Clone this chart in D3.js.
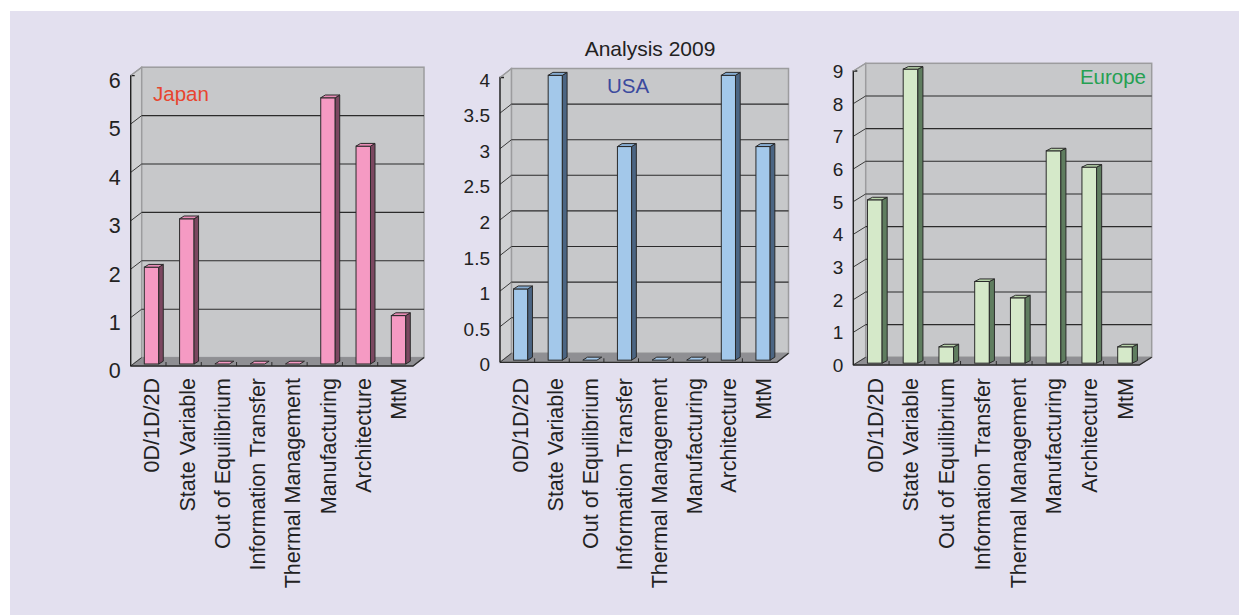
<!DOCTYPE html>
<html>
<head>
<meta charset="utf-8">
<script src="https://cdn.jsdelivr.net/npm/d3@7"></script>
<style>
  html, body { margin: 0; padding: 0; background: #ffffff; }
  svg text { font-family: "Liberation Sans", Arial, Helvetica, sans-serif; }
</style>
</head>
<body>
<svg id="chart" width="1239" height="615"></svg>
<script>
// Research topics scored in each region
const categories = ["0D/1D/2D", "State Variable", "Out of Equilibrium", "Information Transfer",
                    "Thermal Management", "Manufacturing", "Architecture", "MtM"];
const japanValues  = [2, 3, 0, 0, 0, 5.5, 4.5, 1];
const usaValues    = [1, 4, 0, 3, 0, 0, 4, 3];
const europeValues = [5, 9, 0.5, 2.5, 2, 6.5, 6, 0.5];
const japanTicks  = [0, 1, 2, 3, 4, 5, 6];
const usaTicks    = [0, 0.5, 1, 1.5, 2, 2.5, 3, 3.5, 4];
const europeTicks = [0, 1, 2, 3, 4, 5, 6, 7, 8, 9];
const chartTitle = "Analysis 2009";

const panels = [
  { name: "Japan", values: japanValues, ticks: japanTicks,
    x0: 130.7, x1: 413, y0: 366, yTop: 75.6, dx: 11, dy: 8.4,
    tickFont: 21.5, tickShift: 5, nameColor: "#e8452f", nameX: 153, nameY: 101, nameAnchor: "start",
    front: "#f59ac3", side: "#7b4760", top: "#e98cb6" },
  { name: "USA", values: usaValues, ticks: usaTicks,
    x0: 500, x1: 777, y0: 362.3, yTop: 77.5, dx: 11.5, dy: 9,
    tickFont: 19, tickShift: 2.5, nameColor: "#3b4a9e", nameX: 607, nameY: 93, nameAnchor: "start",
    front: "#a3c8ea", side: "#4b6583", top: "#86acd2" },
  { name: "Europe", values: europeValues, ticks: europeTicks,
    x0: 853.3, x1: 1139.3, y0: 365, yTop: 71, dx: 12.4, dy: 7.7,
    tickFont: 19, tickShift: 0.5, nameColor: "#25a052", nameX: 1146, nameY: 84, nameAnchor: "end",
    front: "#d5e9c9", side: "#5f7d5f", top: "#b8d4aa" }
];

const svg = d3.select("#chart");

svg.append("rect").attr("x", 10).attr("y", 11).attr("width", 1229).attr("height", 604)
  .attr("fill", "#e3e0ef");

svg.append("text").attr("x", 650).attr("y", 56).attr("text-anchor", "middle")
  .attr("font-size", 21).attr("fill", "#222").text(chartTitle);

const poly = pts => "M" + pts.map(p => p.join(",")).join("L") + "Z";

panels.forEach(p => {
  const g = svg.append("g");
  const maxV = d3.max(p.ticks);
  // front-plane scales
  const y = d3.scaleLinear().domain([0, maxV]).range([p.y0, p.yTop]);
  const ox = p.dx * 0.29, oy = p.dy * 0.24;         // bars sit slightly behind the front plane
  const x = d3.scaleBand().domain(categories).range([p.x0 + ox, p.x1 + ox]);
  const bw = x.bandwidth() * 0.41;
  const bdx = p.dx * 0.41, bdy = p.dy * 0.33;        // bar depth

  const bx0 = p.x0 + p.dx, bx1 = p.x1 + p.dx;        // back wall
  const byTop = p.yTop - p.dy, byBot = p.y0 - p.dy;

  // side wall
  g.append("path").attr("d", poly([[p.x0, p.y0], [p.x0, p.yTop], [bx0, byTop], [bx0, byBot]]))
    .attr("fill", "#cfd0d2").attr("stroke", "#9c9c9e").attr("stroke-width", 1.2);
  // back wall
  g.append("rect").attr("x", bx0).attr("y", byTop).attr("width", bx1 - bx0).attr("height", byBot - byTop)
    .attr("fill", "#c7c8ca").attr("stroke", "#9c9c9e").attr("stroke-width", 1.5);
  // floor
  g.append("path").attr("d", poly([[p.x0, p.y0], [p.x1, p.y0], [bx1, byBot], [bx0, byBot]]))
    .attr("fill", "#8f8f93").attr("stroke", "#8f8f93").attr("stroke-width", 0.8);

  // gridlines across back wall and side wall
  const gridVals = p.ticks.filter(v => v > 0 && v < maxV);
  g.selectAll(".grid").data(gridVals).join("line")
    .attr("x1", bx0).attr("x2", bx1)
    .attr("y1", d => y(d) - p.dy).attr("y2", d => y(d) - p.dy)
    .attr("stroke", "#2b2b2b").attr("stroke-width", 1.1);
  g.selectAll(".gridside").data(p.ticks.filter(v => v < maxV)).join("line")
    .attr("x1", p.x0).attr("y1", d => y(d)).attr("x2", bx0).attr("y2", d => y(d) - p.dy)
    .attr("stroke", "#3a3a3a").attr("stroke-width", 1);

  // front floor edge, right floor edge and value axis line
  g.append("path").attr("d", `M${p.x0},${p.y0}L${p.x1},${p.y0}L${bx1},${byBot}`)
    .attr("fill", "none").attr("stroke", "#2b2b2b").attr("stroke-width", 1.3);
  g.append("path").attr("d", `M${p.x0 + 4},${p.yTop}L${p.x0},${p.yTop}L${p.x0},${p.y0}`)
    .attr("fill", "none").attr("stroke", "#1e1e1e").attr("stroke-width", 1.3);
  g.append("line").attr("x1", p.x0).attr("y1", p.yTop).attr("x2", bx0).attr("y2", byTop)
    .attr("stroke", "#9c9c9e").attr("stroke-width", 1.2);

  // small category separators on the floor edge
  const seps = d3.range(1, categories.length).map(i => p.x0 + i * (p.x1 - p.x0) / categories.length);
  g.selectAll(".sep").data(seps).join("line")
    .attr("x1", d => d).attr("x2", d => d).attr("y1", p.y0 - 4).attr("y2", p.y0)
    .attr("stroke", "#2b2b2b").attr("stroke-width", 1);

  // bars
  const bars = g.selectAll(".bar").data(p.values.map((v, i) => ({ v, c: categories[i] }))).join("g");
  bars.each(function (d) {
    const b = d3.select(this);
    const left = x(d.c) + (x.bandwidth() - bw) / 2;
    const right = left + bw;
    const bot = p.y0 - oy;
    const topY = y(d.v) - oy;
    if (d.v > 0) {
      b.append("rect").attr("x", left).attr("y", topY).attr("width", bw).attr("height", bot - topY)
        .attr("fill", p.front).attr("stroke", "#2a2a2a").attr("stroke-width", 1);
      b.append("path").attr("d", poly([[right, topY], [right + bdx, topY - bdy], [right + bdx, bot - bdy], [right, bot]]))
        .attr("fill", p.side).attr("stroke", "#2a2a2a").attr("stroke-width", 1);
    }
    b.append("path").attr("d", poly([[left, topY], [left + bdx, topY - bdy], [right + bdx, topY - bdy], [right, topY]]))
      .attr("fill", d.v > 0 ? p.top : p.front)
      .attr("stroke", "#2a2a2a").attr("stroke-width", 1);
  });

  // value axis labels
  const yAxis = g.append("g").attr("transform", `translate(${p.x0},0)`)
    .call(d3.axisLeft(y).tickValues(p.ticks).tickSize(0).tickPadding(10).tickFormat(d => String(d)));
  yAxis.select(".domain").remove();
  yAxis.selectAll("text").attr("font-size", p.tickFont).attr("fill", "#222")
    .attr("font-family", "'Liberation Sans', Arial, sans-serif")
    .attr("transform", `translate(0,${p.tickShift})`);

  // category labels
  const xAxis = g.append("g").attr("transform", `translate(0,${p.y0})`)
    .call(d3.axisBottom(x).tickSize(0));
  xAxis.select(".domain").remove();
  xAxis.selectAll("text")
    .attr("font-size", 21.5).attr("fill", "#222")
    .attr("font-family", "'Liberation Sans', Arial, sans-serif")
    .attr("transform", "rotate(-90)")
    .attr("text-anchor", "end")
    .attr("x", -(378 - p.y0)).attr("y", 0).attr("dy", "0.36em");

  // region name
  g.append("text").attr("x", p.nameX).attr("y", p.nameY).attr("text-anchor", p.nameAnchor)
    .attr("font-size", 20.5).attr("fill", p.nameColor).text(p.name);
});
</script>
</body>
</html>
